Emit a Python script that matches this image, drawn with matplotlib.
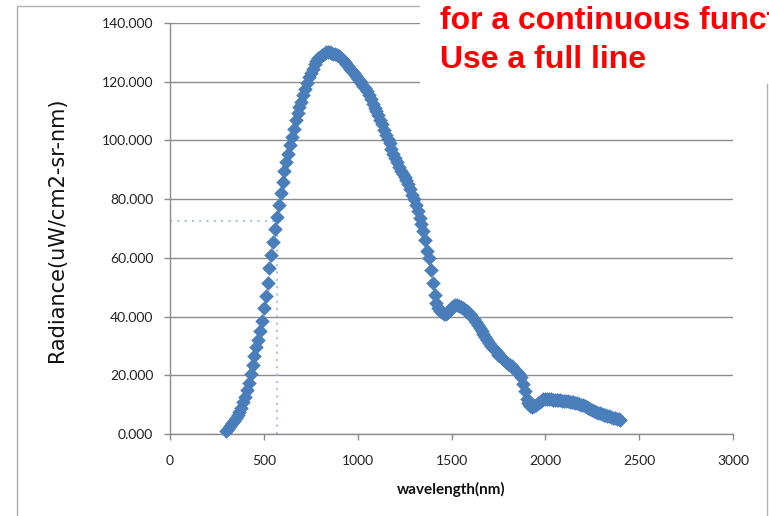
import numpy as np
import matplotlib
matplotlib.use('Agg')
import matplotlib.pyplot as plt
from matplotlib.patches import Rectangle

# ----------------------------------------------------------------
# Data (radiance every 10 nm, 300..2400 nm)
# ----------------------------------------------------------------
wavelength = np.arange(300, 2410, 10)
radiance = [
  1.0, 1.8, 2.8, 3.8, 4.5, 5.5, 6.5, 7.5, 9.0, 10.8,
  12.5, 15.0, 17.5, 20.5, 23.5, 26.5, 29.5, 32.0, 35.0, 38.5,
  43.0, 47.0, 51.5, 56.5, 61.0, 65.5, 70.0, 74.0, 78.0, 82.0,
  86.0, 89.5, 92.5, 95.5, 98.5, 101.0, 104.0, 107.0, 109.5, 111.5,
  113.0, 115.5, 117.5, 119.5, 121.5, 123.0, 124.5, 126.0, 127.0, 128.0,
  128.5, 129.0, 129.5, 130.0, 130.0, 130.0, 129.8, 129.5, 129.3, 129.0,
  128.8, 128.2, 127.5, 126.8, 126.0, 125.5, 124.5, 123.8, 123.0, 122.0,
  121.0, 120.2, 119.5, 118.5, 117.8, 117.0, 115.5, 114.0, 112.5, 111.0,
  110.0, 108.5, 107.0, 105.5, 103.5, 102.0, 100.5, 99.0, 97.0, 95.5,
  94.0, 92.5, 91.0, 89.5, 88.5, 87.5, 86.5, 85.0, 83.5, 81.5,
  80.0, 78.0, 76.0, 73.5, 71.5, 69.0, 66.0, 62.5, 60.0, 56.0,
  51.5, 47.5, 44.5, 43.0, 42.0, 41.5, 41.0, 41.0, 41.5, 42.5,
  43.0, 43.5, 43.8, 43.8, 43.5, 43.2, 42.8, 42.2, 41.8, 41.3,
  40.8, 40.0, 39.2, 38.2, 37.2, 36.2, 35.0, 34.0, 33.0, 32.0,
  31.0, 30.0, 29.2, 28.5, 27.8, 27.0, 26.5, 25.8, 25.2, 24.6,
  24.0, 23.5, 23.0, 22.4, 21.8, 21.2, 20.5, 19.5, 17.0, 14.5,
  12.0, 10.5, 9.5, 9.2, 9.5, 10.0, 10.5, 11.0, 11.5, 11.8,
  12.0, 12.0, 11.9, 11.8, 11.7, 11.6, 11.5, 11.5, 11.5, 11.4,
  11.3, 11.2, 11.1, 11.0, 10.9, 10.8, 10.6, 10.4, 10.2, 10.0,
  9.8, 9.5, 9.2, 8.8, 8.5, 8.2, 7.8, 7.5, 7.2, 7.0,
  6.8, 6.6, 6.4, 6.2, 6.0, 5.8, 5.6, 5.4, 5.2, 5.0,
  4.8,
]
x_ticks = [0, 500, 1000, 1500, 2000, 2500, 3000]
y_ticks = [0, 20, 40, 60, 80, 100, 120, 140]

# Dotted guide: reading of the half-maximum point
guide_x_end = 560
guide_x = 568
guide_y = 72.5

note_lines = ['for a continuous function', 'Use a full line']

# ----------------------------------------------------------------
# Figure
# ----------------------------------------------------------------
W, H = 769, 516
fig = plt.figure(figsize=(W / 100, H / 100), dpi=100)
fig.patch.set_facecolor('white')

# outer chart frame (Excel style)
fig.patches.append(Rectangle((17 / W, 1 - 520 / H), 750 / W, 514 / H,
                             transform=fig.transFigure, fill=False,
                             edgecolor='#B0B0B0', linewidth=1.0, zorder=0))

ax = fig.add_axes([170 / W, 1 - 434 / H, 563 / W, 411 / H])
ax.set_zorder(1)

grid_color = '#8C8C8C'
blue = '#4A7EBB'

ax.scatter(wavelength, radiance, marker='D', s=55, color=blue,
           linewidths=0, zorder=3, clip_on=False)

# dotted guide lines
ax.plot([0, guide_x_end], [guide_y, guide_y], linestyle=(0, (1, 2.5)),
        color='#A9C2E2', linewidth=1.5, zorder=2)
ax.plot([guide_x, guide_x], [0, guide_y], linestyle=(0, (1, 2.5)),
        color='#A9C2E2', linewidth=1.5, zorder=2)

ax.set_xlim(0, 3000)
ax.set_ylim(0, 140)
ax.set_xticks(x_ticks)
ax.set_yticks(y_ticks)
ax.set_yticklabels(['%.3f' % v for v in y_ticks])
ax.yaxis.grid(True, color=grid_color, linewidth=1.0)
ax.set_axisbelow(True)

for side in ['top', 'right']:
  ax.spines[side].set_visible(False)
for side in ['left', 'bottom']:
  ax.spines[side].set_color(grid_color)
  ax.spines[side].set_linewidth(1.0)

ax.tick_params(axis='both', color=grid_color, length=4, width=1.0,
               labelsize=10, labelcolor='#222222')
ax.tick_params(axis='x', pad=11)
ax.tick_params(axis='y', pad=8)
for lab in ax.get_xticklabels() + ax.get_yticklabels():
  lab.set_family(['Lato', 'DejaVu Sans'])

ax.set_xlabel('wavelength(nm)', family=['Lato', 'DejaVu Sans'],
              fontweight='bold', fontsize=11, labelpad=11, color='#111111')
fig.text(57 / W, 1 - 230 / H, 'Radiance(uW/cm2-sr-nm)', rotation=90,
         ha='center', va='center', fontsize=15, color='#111111',
         family='DejaVu Sans')

# white note box with red text, covering the top-right corner
fig.patches.append(Rectangle((420 / W, 1 - 84 / H), 360 / W, 90 / H,
                             transform=fig.transFigure, facecolor='white',
                             edgecolor='none', zorder=5))
fig.text(440 / W, 1 - 29 / H, note_lines[0], color='#FF0000', fontsize=23,
         fontweight='bold', family=['Liberation Sans', 'DejaVu Sans'],
         ha='left', va='baseline', zorder=6)
fig.text(440 / W, 1 - 68 / H, note_lines[1], color='#FF0000', fontsize=23,
         fontweight='bold', family=['Liberation Sans', 'DejaVu Sans'],
         ha='left', va='baseline', zorder=6)

fig.savefig('out.png', dpi=100)
